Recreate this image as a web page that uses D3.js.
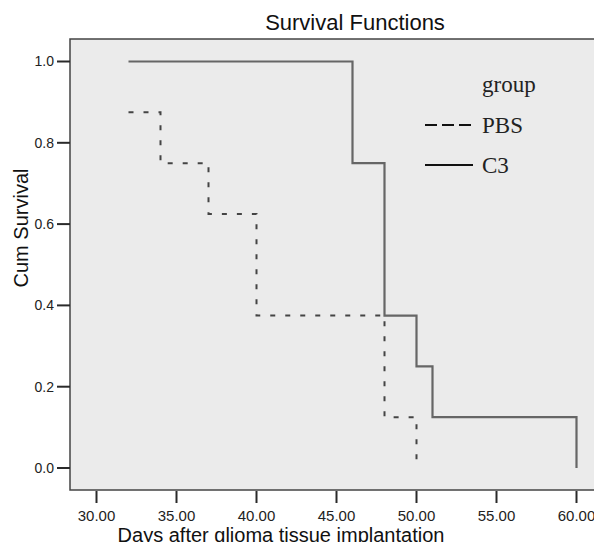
<!DOCTYPE html>
<html>
<head>
<meta charset="utf-8">
<script src="https://cdn.jsdelivr.net/npm/d3@7"></script>
<style>
body { margin: 0; background: #fff; }
svg { display: block; }
</style>
</head>
<body>
<div id="chart"></div>
<script>
// Data: step points (day, cum survival)
const groups = ['PBS', 'C3'];
const pbsDays = [32, 34, 37, 40, 48, 50, 50];
const pbsSurv = [0.875, 0.75, 0.625, 0.375, 0.125, 0.0, 0.0];
const c3Days = [32, 46, 48, 50, 51, 60, 60];
const c3Surv = [1.0, 0.75, 0.375, 0.25, 0.125, 0.0, 0.0];
const xTicks = [30, 35, 40, 45, 50, 55, 60];
const yTicks = [0.0, 0.2, 0.4, 0.6, 0.8, 1.0];

const w = 594, h = 542;
const padLeft = 70, padTop = 39, padBottom = 490, padRight = 600;
const sans = 'Liberation Sans, Arial, sans-serif';

const svg = d3.select('#chart')
	.append('svg')
	.attr('width', w)
	.attr('height', h);

const xScale = d3.scaleLinear()
	.domain([30, 60])
	.range([96.5, 576.5]);

const yScale = d3.scaleLinear()
	.domain([0, 1])
	.range([468, 61.5]);

// plot background + frame
svg.append('rect')
	.attr('x', padLeft)
	.attr('y', padTop)
	.attr('width', padRight - padLeft)
	.attr('height', padBottom - padTop)
	.attr('fill', '#ebebeb')
	.attr('stroke', '#444')
	.attr('stroke-width', 1.5);

// title
svg.append('text')
	.attr('x', 355)
	.attr('y', 30)
	.attr('text-anchor', 'middle')
	.style('font-family', sans)
	.style('font-size', '22px')
	.attr('fill', '#111')
	.text('Survival Functions');

// x ticks
const xt = svg.append('g').attr('id', 'x-axis')
	.selectAll('g')
	.data(xTicks)
	.enter()
	.append('g')
	.attr('transform', d => 'translate(' + xScale(d) + ',0)');
xt.append('line')
	.attr('y1', padBottom + 1)
	.attr('y2', padBottom + 13)
	.attr('stroke', '#2a2a2a')
	.attr('stroke-width', 2);
xt.append('text')
	.attr('y', 521)
	.attr('text-anchor', 'middle')
	.style('font-family', sans)
	.style('font-size', '15px')
	.attr('fill', '#222')
	.text(d => d3.format('.2f')(d));

// y ticks
const yt = svg.append('g').attr('id', 'y-axis')
	.selectAll('g')
	.data(yTicks)
	.enter()
	.append('g')
	.attr('transform', d => 'translate(0,' + yScale(d) + ')');
yt.append('line')
	.attr('x1', padLeft - 13)
	.attr('x2', padLeft)
	.attr('stroke', '#2a2a2a')
	.attr('stroke-width', 2);
yt.append('text')
	.attr('x', padLeft - 16)
	.attr('dy', '0.35em')
	.attr('text-anchor', 'end')
	.style('font-family', sans)
	.style('font-size', '14px')
	.attr('fill', '#222')
	.text(d => d3.format('.1f')(d));

// axis labels
svg.append('text')
	.attr('transform', 'translate(28,228) rotate(-90)')
	.attr('text-anchor', 'middle')
	.style('font-family', sans)
	.style('font-size', '20px')
	.attr('fill', '#111')
	.text('Cum Survival');

svg.append('text')
	.attr('x', 281)
	.attr('y', 542)
	.attr('text-anchor', 'middle')
	.style('font-family', sans)
	.style('font-size', '20px')
	.attr('fill', '#111')
	.text('Days after glioma tissue implantation');

// step lines
const line = d3.line()
	.curve(d3.curveStepAfter)
	.x(d => xScale(d[0]))
	.y(d => yScale(d[1]));

const pbsData = d3.zip(pbsDays, pbsSurv);
const c3Data = d3.zip(c3Days, c3Surv);

svg.append('path')
	.datum(pbsData)
	.attr('d', line)
	.attr('fill', 'none')
	.attr('stroke', '#444')
	.attr('stroke-width', 2)
	.attr('stroke-dasharray', '5,10');

svg.append('path')
	.datum(c3Data)
	.attr('d', line)
	.attr('fill', 'none')
	.attr('stroke', '#666')
	.attr('stroke-width', 2.2);

// legend
const legend = svg.append('g')
	.style('font-family', 'Liberation Serif, Times New Roman, serif')
	.style('font-size', '23px')
	.attr('fill', '#222');

legend.append('text')
	.attr('x', 482)
	.attr('y', 92)
	.text('group');

groups.forEach((g, i) => {
	const y = 125 + i * 40;
	legend.append('line')
		.attr('x1', 425)
		.attr('x2', 473)
		.attr('y1', y)
		.attr('y2', y)
		.attr('stroke', '#111')
		.attr('stroke-width', 2)
		.attr('stroke-dasharray', g === 'PBS' ? '12,5' : null);
	legend.append('text')
		.attr('x', 482)
		.attr('y', y + 8)
		.text(g);
});
</script>
</body>
</html>
